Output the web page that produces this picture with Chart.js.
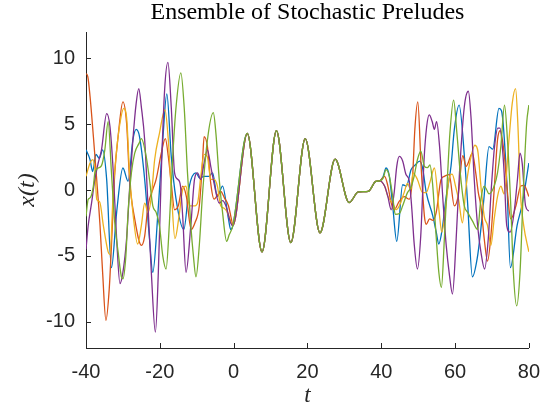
<!DOCTYPE html>
<html>
<head>
<meta charset="utf-8">
<script src="https://cdn.jsdelivr.net/npm/chart.js@4.4.0/dist/chart.umd.min.js"></script>
<style>
  html, body { margin: 0; padding: 0; background: #fff; }
  #wrap { width: 552px; height: 410px; }
</style>
</head>
<body>
<div id="wrap"><canvas id="chart" width="552" height="410"></canvas></div>
<script>
// values: [t, x(t)]
const seriesNames = ['run1', 'run2', 'run3', 'run4', 'run5'];
const seriesColors = ['#0072BD', '#D95319', '#EDB120', '#7E2F8E', '#77AC30'];
const xTicks = [-40, -20, 0, 20, 40, 60, 80];
const yTicks = [-10, -5, 0, 5, 10];

// shared deterministic stretch (all runs agree here)
const coreSegment = [[-0.2,-2.7],[3.7,4.3],[7.7,-4.7],[11.6,4.5],[15.5,-4.0],[19.4,3.9],[23.4,-3.25],[27.5,2.35],[31.3,-0.95],[33.8,-0.15],[36.5,-0.1],[38.5,0.65],[39.6,0.7]];

const bluePre = [[-40,3.05],[-38.9,2.3],[-38.2,1.4],[-37.3,2.7],[-36.4,2.4],[-35.5,3.05],[-34.4,0.8],[-33.1,-5.9],[-31.7,-1.7],[-30,1.67],[-28.6,0.67],[-27.3,3.8],[-26.4,4.6],[-25.5,4.06],[-24.1,0.8],[-22.8,-3.7],[-21.9,-6.25],[-20.5,-1.7],[-19.2,3.8],[-18.1,7.3],[-16.9,2.55],[-15.6,-0.7],[-13.5,-3.0],[-12,0.3],[-10.2,1.3],[-9.2,0.9],[-8,1.04],[-6.7,1.04],[-5.7,1.3],[-4.4,-0.5],[-3,0.3],[-1.4,-2.2],[-0.8,-3.0]];
const bluePost = [[40.5,1.0],[41.3,1.67],[42.2,1.04],[43.1,-1.2],[44.2,-3.9],[45.8,0.4],[46.8,0.3],[48.1,1.55],[49.2,1.9],[50.4,2.2],[51.2,1.67],[52.2,-0.2],[54,-2.0],[54.9,-3.2],[55.6,-4.1],[56.5,-3.0],[57.5,-0.7],[58.9,1.8],[59.8,4.6],[61.1,6.45],[62.6,2.3],[63.4,-1.0],[64.7,-6.6],[66,-5.2],[66.9,-3.2],[67.8,-0.7],[69.2,3.3],[70.2,3.1],[71.9,6.2],[72.6,6.0],[74,0.8],[75,-5.9],[76.8,-2.7],[78.1,-1.2],[80,2.05]];

const orangePre = [[-40,8.85],[-39.5,8.6],[-38.9,7.1],[-38,4.06],[-37.1,0.8],[-36.2,-2.7],[-35.5,-6.25],[-34.6,-9.9],[-33.7,-7.5],[-33.1,-4.2],[-32.2,1.3],[-31.3,4.06],[-30,6.7],[-29,5.07],[-28.2,0.8],[-26.8,-2.2],[-25,-4.2],[-24.1,-3.5],[-23.2,-1.2],[-21.9,0.04],[-21,0.8],[-19.6,2.8],[-18.5,3.9],[-17.7,2.55],[-16.9,0.5],[-16,-1.5],[-15,-1.2],[-13.8,0.3],[-12.8,-0.5],[-11.5,-3.0],[-10.5,-2.5],[-9.3,-1.2],[-8.4,2.3],[-8,4.06],[-7.1,3.3],[-6.2,0.5],[-5.3,-0.7],[-4.4,-0.4],[-3.5,-0.1],[-2.5,-0.6],[-1.4,-1.2],[-0.5,-2.35]];
const orangePost = [[40.9,1.04],[41.8,0.3],[42.7,-1.0],[43.5,-1.5],[44.9,-0.85],[46.2,-0.5],[47.6,-0.7],[48.5,1.04],[49.1,4.6],[49.9,6.7],[50.8,1.8],[51.7,-2.0],[52.2,-2.6],[53.1,-2.2],[54,-2.3],[54.9,-1.7],[56.2,0.8],[57.1,1.04],[58.4,1.17],[59.8,-1.2],[60.8,-0.5],[62.1,2.6],[63,1.8],[64.7,2.8],[65.6,1.3],[66.3,-0.2],[67,-1.2],[67.9,-3.7],[68.8,-5.4],[69.7,-3.5],[70.6,0.04],[71.5,3.8],[72.2,4.5],[73.3,2.8],[74.2,-0.2],[75.1,-2.2],[76.5,-1.2],[77.8,0.3],[78.7,0.35],[80,-0.5]];

const yellowPre = [[-40,1.04],[-38.9,2.05],[-38.2,2.3],[-37.6,1.6],[-37.1,-0.7],[-36.3,-0.9],[-35.3,-2.7],[-34,-4.7],[-33.5,-4.9],[-32.6,0],[-31.7,3.05],[-30.8,5.07],[-29.8,6.2],[-29,5.5],[-28.2,1.3],[-27.3,-1.7],[-26,-4.1],[-25,-2.7],[-24.1,-1.0],[-23.2,-1.7],[-22.3,-0.5],[-21.4,2.3],[-20.1,4.3],[-18.6,6.1],[-17.7,3.8],[-16.9,0.04],[-15.9,-3.7],[-14.8,-2.0],[-13.8,0.04],[-12.9,0.3],[-12,-1.2],[-10.5,-1.2],[-9.7,-0.9],[-8.9,1.04],[-8,2.7],[-7.1,2.5],[-6.2,0.8],[-5.3,0.8],[-4.4,0.3],[-3.5,-1.2],[-2.5,-1.4],[-1.7,-1.7],[-0.8,-2.35]];
const yellowPost = [[40.9,0.3],[41.8,-0.5],[43.1,-1.0],[44,-1.5],[44.9,-1.2],[46.2,-0.2],[47.1,0.5],[48,0.04],[48.6,1.3],[49.8,0.8],[51.2,-0.2],[52.2,-0.2],[53.2,0.6],[54.4,1.67],[55.7,-1.7],[56.4,-3.2],[57.5,-1.2],[58.4,0.9],[59.2,1.2],[60.2,0.2],[61,-0.8],[62,-2.5],[62.9,0.04],[63.8,1.8],[65.4,3.4],[66.2,2.9],[67,0.3],[67.9,-2.0],[68.8,-2.7],[69.7,-4.2],[70.6,-2.2],[71.5,-0.5],[72.4,0.3],[73.3,-0.3],[74.6,3.8],[75.5,6.6],[76.4,7.7],[77,5.1],[77.7,-0.2],[78.6,-2.7],[80,-4.7]];

const purplePre = [[-40,-4.5],[-39.4,-2.7],[-38.5,-1.0],[-37.6,0.8],[-36.7,2.05],[-35.8,3.05],[-34.4,5.8],[-33.5,4.8],[-32.6,1.3],[-31.7,-3.7],[-30.8,-7.1],[-30,-6.25],[-29,-3.7],[-28.2,0.04],[-27.3,3.8],[-26.4,6.6],[-25.7,7.7],[-25,6.3],[-24.1,3.8],[-23.2,-1.2],[-22.3,-6.25],[-21.2,-10.8],[-20.4,-6.25],[-19.6,1.3],[-18.7,7.6],[-17.8,9.7],[-16.9,6.3],[-16,1.3],[-15.1,0.8],[-14.4,0.3],[-13.8,-2.0],[-12.9,-6.25],[-11.6,-2.7],[-10.6,0.8],[-9.8,1.3],[-8.9,0.8],[-8,2.05],[-7.1,3.05],[-6.2,1.8],[-5.3,0.5],[-3.9,-1.0],[-3,-0.8],[-2.1,-1.2],[-0.8,-2.5]];
const purplePost = [[40.9,0.3],[41.8,-0.5],[42.7,-1.5],[43.5,-0.2],[44.2,1.8],[44.9,2.55],[45.8,2.2],[46.7,1.17],[47.6,0.67],[48.3,-1.5],[48.9,-4.0],[49.8,-6.0],[50.7,-3.5],[51.6,2.3],[52.3,4.8],[53,5.7],[53.8,5.2],[54.4,4.6],[55,5.2],[55.8,3.3],[56.7,-0.7],[57.6,-4.2],[58.5,-6.5],[59.3,-7.9],[60.3,-3.7],[61.2,1.3],[62.5,6.3],[63.6,7.5],[64.3,5.6],[65.2,0.8],[66.1,-2.7],[67,-4.7],[68,-6.0],[69,-3.7],[69.8,0.04],[70.7,3.3],[71.6,4.7],[72.2,4.7],[72.8,3.3],[73.3,1.3],[74,-2.7],[74.9,-3.2],[76,-1.7],[76.9,0.8],[77.6,2.8],[78.2,2.0],[79.1,-1.2],[80,-1.6]];

const greenPre = [[-40,-2.0],[-39.4,-0.7],[-38.9,-0.6],[-38,0.3],[-37.6,1.3],[-36.7,1.67],[-35.8,1.85],[-34.9,3.05],[-34,5.2],[-33.1,1.3],[-32.2,-2.5],[-31.3,-4.7],[-30.4,-6.6],[-30,-6.75],[-29.2,-5.0],[-28.6,-1.7],[-27.7,1.3],[-26.8,2.8],[-25.6,3.56],[-25,3.9],[-23.7,2.55],[-22.8,0.8],[-21.9,-1.2],[-21,-1.7],[-20.1,-2.7],[-19.2,-5.0],[-18.3,-6.0],[-17.4,-2.5],[-16.5,2.55],[-15.6,6.3],[-14.3,8.9],[-13.4,6.3],[-12.5,1.3],[-11.6,-2.7],[-10.9,-5.0],[-10.2,-6.6],[-9.3,-4.2],[-8.4,-0.2],[-7.1,3.8],[-5.5,5.87],[-4.8,4.3],[-3.9,0.8],[-3,-1.7],[-1.9,-3.9],[-1.2,-3.4]];
const greenPost = [[40.5,0.9],[41.3,1.55],[42.2,1.04],[43.1,-0.5],[43.8,-1.85],[44.9,-1.8],[45.8,-1.2],[47.1,-0.2],[48,0.17],[48.9,1.04],[49.8,2.3],[50.7,2.95],[51.7,1.8],[52.5,1.7],[53.2,1.9],[53.9,0.5],[54.8,-3.2],[55.6,-6.25],[56.3,-7.4],[57.1,-3.7],[58,1.3],[58.6,4.3],[59.6,6.83],[60.5,4.3],[61.4,1.3],[62.5,-1.2],[63.4,-1.7],[64.7,-2.35],[66.1,-3.0],[67,-0.7],[67.9,0.3],[68.6,0.0],[69.2,-0.3],[70.6,0.3],[71.5,1.3],[72.4,3.3],[73.4,6.45],[74.2,3.8],[75.1,-1.2],[75.8,-6.25],[76.7,-8.8],[77.6,-6.25],[78.5,0.04],[79.4,5.07],[80,6.45]];

const preludes = [bluePre, orangePre, yellowPre, purplePre, greenPre];
const codas = [bluePost, orangePost, yellowPost, purplePost, greenPost];

const axisColor = '#262626';

function buildRun(pre, post) {
    return pre.concat(coreSegment, post).map(p => ({ x: p[0], y: p[1] }));
}

// MATLAB-style ticks pointing into the axes
const inwardTicks = {
    id: 'inwardTicks',
    afterDatasetsDraw(chart) {
        const ctx = chart.ctx;
        const xs = chart.scales.x;
        const ys = chart.scales.y;
        ctx.save();
        ctx.strokeStyle = axisColor;
        ctx.lineWidth = 1;
        ctx.beginPath();
        xs.ticks.forEach(t => {
            const px = Math.round(xs.getPixelForValue(t.value)) + 0.5;
            ctx.moveTo(px, xs.top);
            ctx.lineTo(px, xs.top - 5);
        });
        ys.ticks.forEach(t => {
            const py = Math.round(ys.getPixelForValue(t.value)) + 0.5;
            ctx.moveTo(ys.right, py);
            ctx.lineTo(ys.right + 5, py);
        });
        ctx.stroke();
        ctx.restore();
    }
};

const datasets = seriesNames.map((name, i) => ({
    label: name,
    data: buildRun(preludes[i], codas[i]),
    borderColor: seriesColors[i],
    borderWidth: 1.3,
    pointRadius: 0,
    fill: false,
    cubicInterpolationMode: 'monotone',
    order: seriesNames.length - i
}));

new Chart(document.getElementById('chart'), {
    type: 'line',
    data: { datasets: datasets },
    options: {
        responsive: false,
        animation: false,
        devicePixelRatio: 1,
        layout: { padding: { left: 0, right: 20, top: 0, bottom: 0 } },
        plugins: {
            legend: { display: false },
            tooltip: { enabled: false },
            title: {
                display: true,
                text: 'Ensemble of Stochastic Preludes',
                fullSize: false,
                color: '#000',
                font: { family: 'Liberation Serif', size: 24, weight: 'normal', lineHeight: 1 },
                padding: { top: 1, bottom: 7 }
            }
        },
        scales: {
            x: {
                type: 'linear',
                min: -40,
                max: 80,
                afterBuildTicks: s => { s.ticks = xTicks.map(v => ({ value: v })); },
                afterFit: s => { s.height = 62; },
                grid: { display: false, drawTicks: false },
                border: { display: true, color: axisColor, width: 1 },
                ticks: {
                    color: axisColor,
                    padding: 12,
                    maxRotation: 0,
                    font: { family: 'Liberation Sans', size: 20 }
                },
                title: {
                    display: true,
                    text: 't',
                    color: axisColor,
                    font: { family: 'Liberation Serif', size: 23, style: 'italic', lineHeight: 1 },
                    padding: { top: 0, bottom: 3 }
                }
            },
            y: {
                type: 'linear',
                min: -12,
                max: 12,
                afterBuildTicks: s => { s.ticks = yTicks.map(v => ({ value: v })); },
                afterFit: s => { s.width = 86; },
                grid: { display: false, drawTicks: false },
                border: { display: true, color: axisColor, width: 1 },
                ticks: {
                    color: axisColor,
                    padding: 11,
                    font: { family: 'Liberation Sans', size: 20 }
                },
                title: {
                    display: true,
                    text: 'x(t)',
                    color: axisColor,
                    font: { family: 'Liberation Serif', size: 24, style: 'italic', lineHeight: 1 },
                    padding: { top: 16, bottom: 0 }
                }
            }
        }
    },
    plugins: [inwardTicks]
});
</script>
</body>
</html>
